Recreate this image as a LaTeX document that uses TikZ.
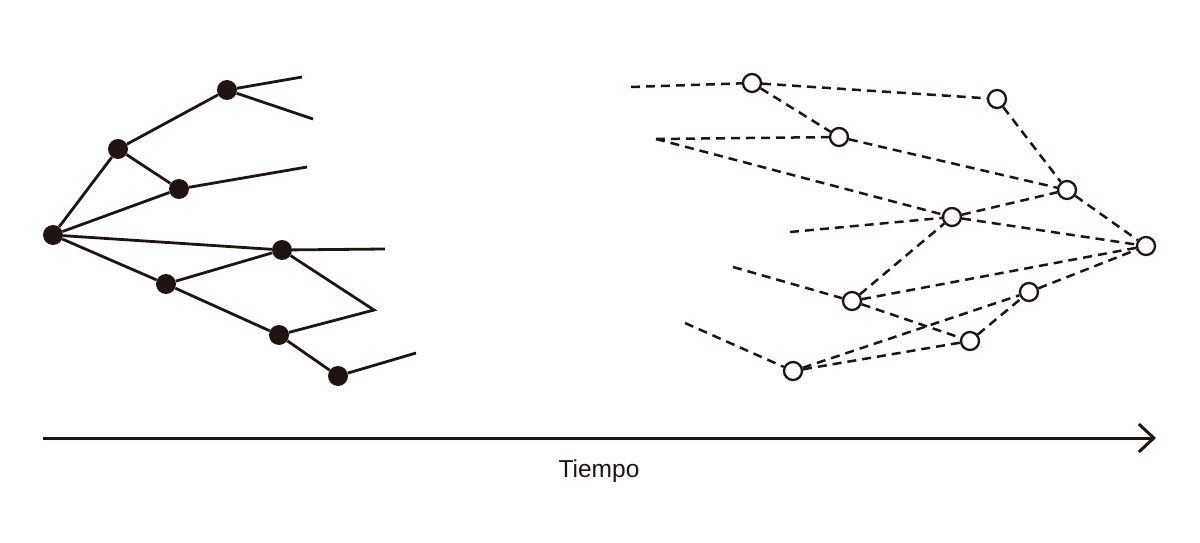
\documentclass[tikz,border=0pt]{standalone}
\usepackage{fontspec}
\setmainfont{Liberation Sans}
\usetikzlibrary{arrows.meta}
\definecolor{ink}{rgb}{0.12,0.08,0.07}
\begin{document}
\begin{tikzpicture}[x=1pt,y=-1pt,
  solidnode/.style={circle,fill=ink,inner sep=0pt,minimum size=20pt},
  opennode/.style={circle,draw=ink,fill=white,line width=2.3pt,inner sep=0pt,minimum size=18pt},
  solidline/.style={draw=ink,line width=2.8pt},
  dashline/.style={draw=ink,line width=2.5pt,dash pattern=on 9pt off 6pt}]
\useasboundingbox (0,0) rectangle (1200,543);
% left graph
\node[solidnode] (A) at (53,235) {};
\node[solidnode] (B) at (118,149) {};
\node[solidnode] (C) at (227,90) {};
\node[solidnode] (D) at (179,189) {};
\node[solidnode] (E) at (282,250) {};
\node[solidnode] (F) at (166,284) {};
\node[solidnode] (G) at (279,335) {};
\node[solidnode] (H) at (338,376) {};
\coordinate (c1) at (302,77);
\coordinate (c2) at (313,119);
\coordinate (d1) at (307,167);
\coordinate (e1) at (385,249);
\coordinate (k) at (374,310);
\coordinate (h1) at (416,353);
\draw[solidline] (A) -- (B);
\draw[solidline] (B) -- (C);
\draw[solidline] (B) -- (D);
\draw[solidline] (A) -- (D);
\draw[solidline] (A) -- (E);
\draw[solidline] (A) -- (F);
\draw[solidline] (F) -- (E);
\draw[solidline] (F) -- (G);
\draw[solidline] (G) -- (H);
\draw[solidline,line join=miter] (E) -- (k) -- (G);
\draw[solidline] (C) -- (c1);
\draw[solidline] (C) -- (c2);
\draw[solidline] (D) -- (d1);
\draw[solidline] (E) -- (e1);
\draw[solidline] (H) -- (h1);
% right graph
\node[opennode] (a) at (752,83) {};
\node[opennode] (b) at (997,99) {};
\node[opennode] (c) at (839,137) {};
\node[opennode] (d) at (1067,190) {};
\node[opennode] (e) at (952,217) {};
\node[opennode] (f) at (1146,246) {};
\node[opennode] (g) at (852,301) {};
\node[opennode] (h) at (1029,292) {};
\node[opennode] (i) at (970,341) {};
\node[opennode] (j) at (793,371) {};
\coordinate (s1) at (631,87);
\coordinate (s2) at (656,139);
\coordinate (s3) at (790,232);
\coordinate (s4) at (733,267);
\coordinate (s5) at (685,323);
\draw[dashline] (s1) -- (a);
\draw[dashline] (a) -- (b);
\draw[dashline] (a) -- (c);
\draw[dashline] (s2) -- (c);
\draw[dashline] (s2) -- (e);
\draw[dashline] (c) -- (d);
\draw[dashline] (b) -- (d);
\draw[dashline] (d) -- (f);
\draw[dashline] (e) -- (d);
\draw[dashline] (e) -- (f);
\draw[dashline] (s3) -- (e);
\draw[dashline] (g) -- (e);
\draw[dashline] (s4) -- (g);
\draw[dashline] (g) -- (f);
\draw[dashline] (g) -- (i);
\draw[dashline] (s5) -- (j);
\draw[dashline] (j) -- (h);
\draw[dashline] (j) -- (i);
\draw[dashline] (i) -- (h);
\draw[dashline] (h) -- (f);
% time axis
\coordinate (t0) at (43,438);
\coordinate (t1) at (1156,438);
\draw[draw=ink,line width=3pt,-{Straight Barb[length=15pt,width=28pt,line width=3pt]}] (t0) -- (t1);
\node[text=ink,font=\fontsize{24.5}{28}\selectfont,anchor=base] (lab) at (599,477) {Tiempo};
\end{tikzpicture}
\end{document}
